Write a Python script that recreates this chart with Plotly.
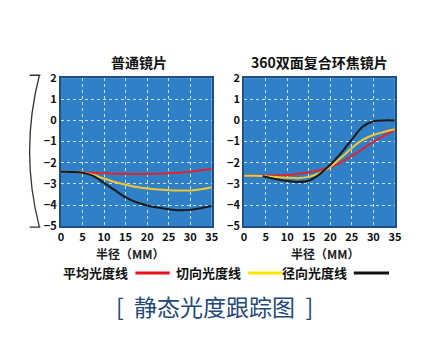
import plotly.graph_objects as go

# ---------------- data ----------------
x_left = [0, 2.5, 5, 7.5, 10, 12.5, 15, 17.5, 20, 22.5, 25, 27.5, 30, 32.5, 35]
red_left = [-2.43, -2.44, -2.46, -2.48, -2.5, -2.52, -2.53, -2.53, -2.53, -2.52, -2.5, -2.47, -2.42, -2.36, -2.3]
yellow_left = [-2.43, -2.44, -2.46, -2.57, -2.75, -2.91, -3.04, -3.15, -3.22, -3.27, -3.3, -3.31, -3.31, -3.26, -3.16]
black_left = [-2.43, -2.44, -2.47, -2.62, -2.96, -3.3, -3.64, -3.87, -4.02, -4.12, -4.2, -4.25, -4.23, -4.15, -4.05]

x_right = [0, 2.5, 5, 7.5, 10, 12.5, 15, 17.5, 20, 22.5, 25, 27.5, 30, 32.5, 35]
red_right = [-2.62, -2.62, -2.61, -2.6, -2.58, -2.53, -2.45, -2.35, -2.2, -1.98, -1.68, -1.35, -1.0, -0.72, -0.45]
yellow_right = [-2.62, -2.62, -2.64, -2.68, -2.71, -2.73, -2.67, -2.5, -2.2, -1.76, -1.3, -0.92, -0.69, -0.54, -0.42]
x_right_black = [4.3, 7.5, 10, 12.5, 15, 17.5, 20, 22.5, 25, 27.5, 30, 32.5, 35]
black_right = [-2.64, -2.78, -2.86, -2.91, -2.85, -2.55, -2.1, -1.55, -0.9, -0.3, -0.04, 0.0, 0.0]

x_ticks = [0, 5, 10, 15, 20, 25, 30, 35]
y_ticks = [2, 1, 0, -1, -2, -3, -4, -5]

panel_titles = ["普通镜片", "360双面复合环焦镜片"]
x_title = "半径（MM）"
legend_names = ["平均光度线", "切向光度线", "径向光度线"]
caption = "[  静态光度跟踪图  ]"

# ---------------- styling ----------------
W, H = 436, 356
OFF = 8  # page body margin offset
FONT = "Noto Sans CJK SC"
RED = "#e3232b"
YEL = "#f2c631"
BLK = "#1b1b1b"
LEG_COLORS = ["#e8141c", "#ffe600", "#111111"]
BG = "#2f80c6"
BORDER = "#1d4f86"


def px(x):
    return (x - OFF) / W


def py(y):
    return 1 - (y - OFF) / H


fig = go.Figure()

series = [
    (x_left, red_left, RED, "x", "y"),
    (x_left, yellow_left, YEL, "x", "y"),
    (x_left, black_left, BLK, "x", "y"),
    (x_right, red_right, RED, "x2", "y2"),
    (x_right, yellow_right, YEL, "x2", "y2"),
    (x_right_black, black_right, BLK, "x2", "y2"),
]
for xs, ys, col, xa, ya in series:
    fig.add_trace(go.Scatter(
        x=xs, y=ys, mode="lines", xaxis=xa, yaxis=ya,
        line=dict(color=col, width=2, shape="spline", smoothing=0.8),
        showlegend=False, hoverinfo="skip",
    ))

axis_common = dict(
    showgrid=True, gridcolor="rgba(255,255,255,0.75)", griddash="dot", gridwidth=1,
    showline=True, linecolor=BORDER, linewidth=2, mirror=True,
    zeroline=False, ticks="",
    tickfont=dict(family=FONT, size=11, color="#111111", weight="bold"),
)

ydom = [py(227), py(72)]
fig.update_layout(
    width=W, height=H,
    margin=dict(l=0, r=0, t=0, b=0),
    paper_bgcolor="white",
    plot_bgcolor=BG,
    xaxis=dict(domain=[px(59), px(213)], range=[0, 35], tickvals=x_ticks, anchor="y", **axis_common),
    yaxis=dict(domain=ydom, range=[-5, 2], tickvals=y_ticks, anchor="x", **axis_common),
    xaxis2=dict(domain=[px(246), px(400)], range=[0, 35], tickvals=x_ticks, anchor="y2", **axis_common),
    yaxis2=dict(domain=ydom, range=[-5, 2], tickvals=y_ticks, anchor="x2", **axis_common),
    showlegend=False,
)

annotations = []
# panel titles
for cx, t in zip([139, 323], panel_titles):
    annotations.append(dict(
        x=px(cx), y=py(55), xref="paper", yref="paper", text=t, showarrow=False,
        font=dict(family=FONT, size=14, color="#111111", weight="bold"),
        xanchor="center", yanchor="middle",
    ))
# x axis titles
for cx in [129, 329]:
    annotations.append(dict(
        x=px(cx), y=py(256), xref="paper", yref="paper", text=x_title, showarrow=False,
        font=dict(family=FONT, size=12, color="#222222", weight="bold"),
        xanchor="center", yanchor="middle",
    ))

shapes = []
# manual legend: text then line
leg_text_right = [130, 245, 353]
leg_line = [(135, 170), (250, 285), (358, 394)]
for name, tr, (l0, l1), col in zip(legend_names, leg_text_right, leg_line, LEG_COLORS):
    annotations.append(dict(
        x=px(tr), y=py(276), xref="paper", yref="paper", text=name, showarrow=False,
        font=dict(family=FONT, size=13, color="#111111", weight="bold"),
        xanchor="right", yanchor="middle",
    ))
    shapes.append(dict(
        type="line", xref="paper", yref="paper",
        x0=px(l0), x1=px(l1), y0=py(276), y1=py(276),
        line=dict(color=col, width=3),
    ))

# caption
annotations.append(dict(
    x=px(216), y=py(311), xref="paper", yref="paper", text=caption, showarrow=False,
    font=dict(family=FONT, size=23, color="#23487a"),
    xanchor="center", yanchor="middle",
))

# decorative bracket on the left
bx0, bx1 = px(27), px(38)
yt, yb, ym = py(69), py(228), py(148.5)
path = (f"M {bx0},{yt} L {bx1},{yt} "
        f"M {px(37)},{yt} Q {px(17)},{ym} {px(37)},{yb} "
        f"M {bx0},{yb} L {bx1},{yb}")
shapes.append(dict(type="path", xref="paper", yref="paper", path=path,
                   line=dict(color="#333333", width=1.3)))

fig.update_layout(annotations=annotations, shapes=shapes)

fig.write_html("out.html")
